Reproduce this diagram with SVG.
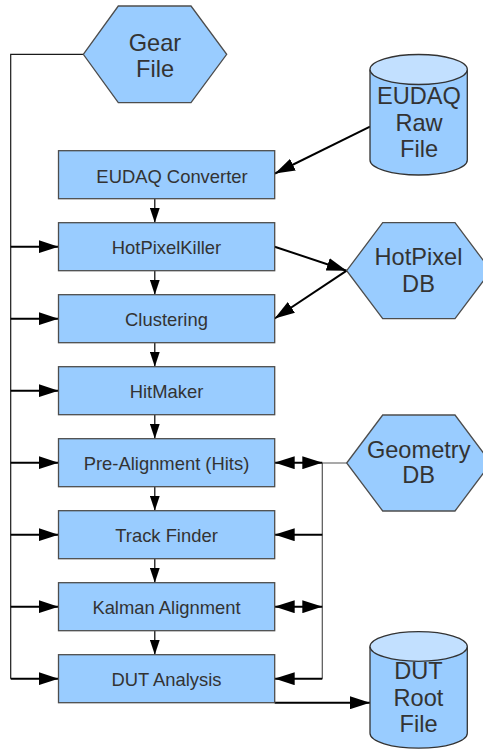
<svg xmlns="http://www.w3.org/2000/svg" width="483" height="749" viewBox="0 0 483 749">
  <style>
    .proc { fill: #99ccff; stroke: #4d4d4d; stroke-width: 1.3; }
    .store { fill: #99ccff; stroke: #333333; stroke-width: 1.3; }
    .lid { fill: #c2e0ff; stroke: #333333; stroke-width: 1.3; }
    .lbl { font-family: "Liberation Sans", Arial, sans-serif; font-size: 18.4px; fill: #333333; text-anchor: middle; }
    .big { font-family: "Liberation Sans", Arial, sans-serif; font-size: 23.6px; fill: #333333; text-anchor: middle; }
    .thin { fill: none; stroke: #1a1a1a; stroke-width: 1.2; }
    .grey { fill: none; stroke: #555555; stroke-width: 1.2; }
    .flow { fill: none; stroke: #000000; stroke-width: 2; }
    .step { fill: none; stroke: #000000; stroke-width: 1.2; }
  </style>
  <defs>
    <marker id="head" markerUnits="userSpaceOnUse" markerWidth="20" markerHeight="13" refX="20" refY="6.5" orient="auto-start-reverse">
      <path d="M0,0 L20,6.5 L0,13 z" fill="#000000"/>
    </marker>
    <marker id="small" markerUnits="userSpaceOnUse" markerWidth="15" markerHeight="10" refX="15" refY="5" orient="auto">
      <path d="M0,0 L15,5 L0,10 z" fill="#000000"/>
    </marker>
  </defs>

  <!-- connectors -->
  <g id="connectors">
    <!-- gear file distribution bus -->
    <path class="thin" d="M83.3,54.3 H10.7 V678.7"/>
    <line class="flow" x1="10.7" y1="246.7" x2="58.5" y2="246.7" marker-end="url(#head)"/>
    <line class="flow" x1="10.7" y1="318.7" x2="58.5" y2="318.7" marker-end="url(#head)"/>
    <line class="flow" x1="10.7" y1="390.7" x2="58.5" y2="390.7" marker-end="url(#head)"/>
    <line class="flow" x1="10.7" y1="462.7" x2="58.5" y2="462.7" marker-end="url(#head)"/>
    <line class="flow" x1="10.7" y1="534.7" x2="58.5" y2="534.7" marker-end="url(#head)"/>
    <line class="flow" x1="10.7" y1="606.7" x2="58.5" y2="606.7" marker-end="url(#head)"/>
    <line class="flow" x1="10.7" y1="678.7" x2="58.5" y2="678.7" marker-end="url(#head)"/>

    <!-- processing chain -->
    <line class="step" x1="154.8" y1="198.7" x2="154.8" y2="222.7" marker-end="url(#small)"/>
    <line class="step" x1="154.8" y1="270.7" x2="154.8" y2="294.7" marker-end="url(#small)"/>
    <line class="step" x1="154.8" y1="342.7" x2="154.8" y2="366.7" marker-end="url(#small)"/>
    <line class="step" x1="154.8" y1="414.7" x2="154.8" y2="438.7" marker-end="url(#small)"/>
    <line class="step" x1="154.8" y1="486.7" x2="154.8" y2="510.7" marker-end="url(#small)"/>
    <line class="step" x1="154.8" y1="558.7" x2="154.8" y2="582.7" marker-end="url(#small)"/>
    <line class="step" x1="154.8" y1="630.7" x2="154.8" y2="654.7" marker-end="url(#small)"/>

    <!-- raw data input -->
    <line class="flow" x1="370" y1="126.7" x2="275" y2="173.5" marker-end="url(#head)"/>

    <!-- hot pixel database -->
    <line class="flow" x1="274.7" y1="246.7" x2="346.7" y2="270.7" marker-end="url(#head)"/>
    <line class="flow" x1="346.7" y1="270.7" x2="274.7" y2="318.5" marker-end="url(#head)"/>

    <!-- geometry database bus -->
    <path class="grey" d="M346.7,463 H322.3 V678.7"/>
    <line class="flow" x1="274.7" y1="462.7" x2="322.3" y2="462.7" marker-start="url(#head)" marker-end="url(#head)"/>
    <line class="flow" x1="322.3" y1="534.7" x2="274.7" y2="534.7" marker-end="url(#head)"/>
    <line class="flow" x1="274.7" y1="606.7" x2="322.3" y2="606.7" marker-start="url(#head)" marker-end="url(#head)"/>
    <line class="flow" x1="322.3" y1="678.7" x2="274.7" y2="678.7" marker-end="url(#head)"/>

    <!-- output -->
    <line class="flow" x1="274.7" y1="702.7" x2="370" y2="702.7" marker-end="url(#head)"/>
  </g>

  <!-- inputs -->
  <g id="gear-file">
    <polygon class="proc" points="83.3,54.3 118.3,6 191,6 226.7,54.3 191,102.7 118.3,102.7"/>
    <text class="big" x="155" y="50.7">Gear</text>
    <text class="big" x="155" y="76.7">File</text>
  </g>

  <g id="eudaq-raw-file">
    <path class="store" d="M370,69.5 V160 A48.65,15 0 0 0 467.3,160 V69.5"/>
    <ellipse class="lid" cx="418.65" cy="69.5" rx="48.65" ry="15"/>
    <text class="big" x="419" y="104">EUDAQ</text>
    <text class="big" x="419" y="130.7">Raw</text>
    <text class="big" x="419" y="157.3">File</text>
  </g>

  <g id="hotpixel-db">
    <polygon class="proc" points="346.7,270.7 382.7,222.7 455,222.7 491,270.7 455,318.7 382.7,318.7"/>
    <text class="big" x="418.5" y="265">HotPixel</text>
    <text class="big" x="418.5" y="291.7">DB</text>
  </g>

  <g id="geometry-db">
    <polygon class="proc" points="346.7,463 382.7,415 455,415 491,463 455,511 382.7,511"/>
    <text class="big" x="418.7" y="457.7">Geometry</text>
    <text class="big" x="418.7" y="483.3">DB</text>
  </g>

  <!-- processors -->
  <g id="eudaq-converter">
    <rect class="proc" x="58.5" y="150.7" width="216.2" height="48"/>
    <text class="lbl" x="172" y="183.3">EUDAQ Converter</text>
  </g>
  <g id="hotpixelkiller">
    <rect class="proc" x="58.5" y="222.7" width="216.2" height="48"/>
    <text class="lbl" x="166.5" y="253.7">HotPixelKiller</text>
  </g>
  <g id="clustering">
    <rect class="proc" x="58.5" y="294.7" width="216.2" height="48"/>
    <text class="lbl" x="166.5" y="325.7">Clustering</text>
  </g>
  <g id="hitmaker">
    <rect class="proc" x="58.5" y="366.7" width="216.2" height="48"/>
    <text class="lbl" x="166.5" y="397.7">HitMaker</text>
  </g>
  <g id="pre-alignment">
    <rect class="proc" x="58.5" y="438.7" width="216.2" height="48"/>
    <text class="lbl" x="166.5" y="470">Pre-Alignment (Hits)</text>
  </g>
  <g id="track-finder">
    <rect class="proc" x="58.5" y="510.7" width="216.2" height="48"/>
    <text class="lbl" x="166.5" y="542">Track Finder</text>
  </g>
  <g id="kalman-alignment">
    <rect class="proc" x="58.5" y="582.7" width="216.2" height="48"/>
    <text class="lbl" x="166.5" y="614">Kalman Alignment</text>
  </g>
  <g id="dut-analysis">
    <rect class="proc" x="58.5" y="654.7" width="216.2" height="48"/>
    <text class="lbl" x="166.5" y="686">DUT Analysis</text>
  </g>

  <!-- output file -->
  <g id="dut-root-file">
    <path class="store" d="M370,646.5 V733.3 A48.65,14.8 0 0 0 467.3,733.3 V646.5"/>
    <ellipse class="lid" cx="418.65" cy="646.5" rx="48.65" ry="14.8"/>
    <text class="big" x="418.5" y="679">DUT</text>
    <text class="big" x="418.5" y="706">Root</text>
    <text class="big" x="418.5" y="732.3">File</text>
  </g>
</svg>
